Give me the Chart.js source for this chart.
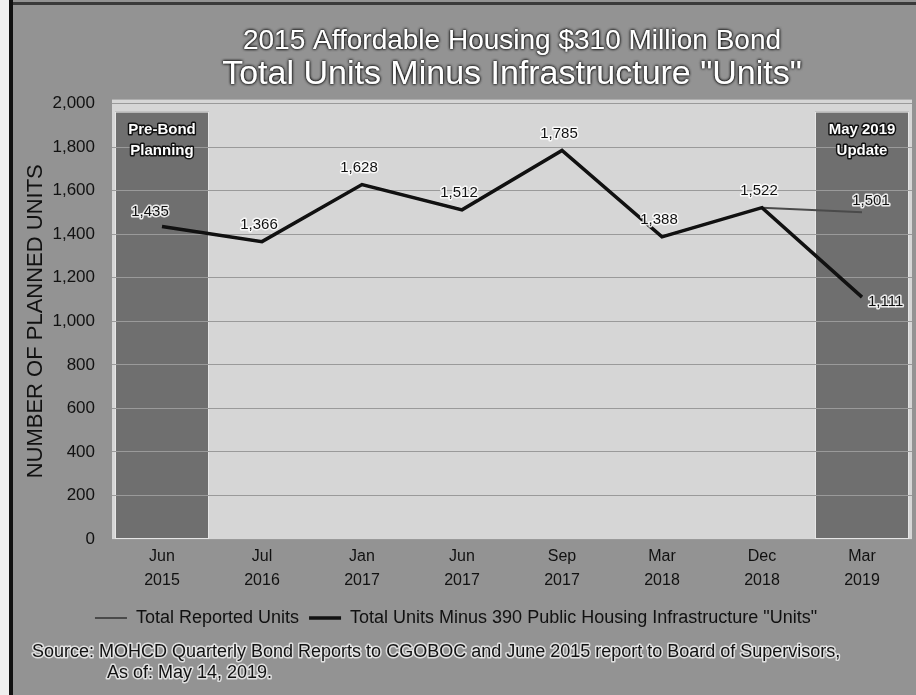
<!DOCTYPE html>
<html>
<head>
<meta charset="utf-8">
<script src="https://cdn.jsdelivr.net/npm/chart.js@4.4.1/dist/chart.umd.min.js"></script>
<style>
html, body { margin: 0; padding: 0; background: #939393; }
canvas { display: block; }
</style>
</head>
<body>
<canvas id="c" width="916" height="695"></canvas>
<script>
// ---- data ----
const categories = [['Jun','2015'],['Jul','2016'],['Jan','2017'],['Jun','2017'],['Sep','2017'],['Mar','2018'],['Dec','2018'],['Mar','2019']];
const totalReportedUnits = [1435, 1366, 1628, 1512, 1785, 1388, 1522, 1501];
const unitsMinusInfrastructure = [1435, 1366, 1628, 1512, 1785, 1388, 1522, 1111];
const seriesNames = ['Total Reported Units', 'Total Units Minus 390 Public Housing Infrastructure "Units"'];
const yTicks = [0, 200, 400, 600, 800, 1000, 1200, 1400, 1600, 1800, 2000];
const bandIndices = [0, 7];
const bandTitles = [['Pre-Bond', 'Planning'], ['May 2019', 'Update']];
const titleText = '2015 Affordable Housing $310 Million Bond';
const subtitleText = 'Total Units Minus Infrastructure "Units"';
const yAxisTitle = 'NUMBER OF PLANNED UNITS';
const sourceLines = ['Source: MOHCD Quarterly Bond Reports to CGOBOC and June 2015 report to Board of Supervisors,', 'As of: May 14, 2019.'];

const FONT = '"Liberation Sans", Arial, Helvetica, sans-serif';
Chart.defaults.font.family = FONT;

const backdrop = {
  id: 'backdrop',
  beforeDraw(chart) {
    const ctx = chart.ctx;
    const { left, top, right, bottom } = chart.chartArea;
    ctx.save();
    ctx.fillStyle = '#939393';
    ctx.fillRect(0, 0, chart.width, chart.height);
    ctx.fillStyle = '#efefef';
    ctx.fillRect(0, 0, 9, chart.height);
    ctx.fillStyle = '#111';
    ctx.fillRect(9, 0, 4, chart.height);
    ctx.fillStyle = '#3a3a3a';
    ctx.fillRect(13, 2, chart.width - 13, 3);
    ctx.fillStyle = '#d6d6d6';
    ctx.fillRect(left, top - 4, right - left, bottom - top + 4);
    const xs = chart.scales.x;
    const half = (xs.getPixelForValue(1) - xs.getPixelForValue(0)) / 2;
    bandIndices.forEach(i => {
      const c = xs.getPixelForValue(i);
      ctx.fillStyle = '#6f6f6f';
      ctx.fillRect(c - half * 0.94, top + 8, half * 1.88, bottom - top - 8);
      ctx.strokeStyle = '#e6e6e6';
      ctx.lineWidth = 1;
      ctx.strokeRect(c - half * 0.94 + 0.5, top + 8.5, half * 1.88 - 1, bottom - top - 9);
    });
    ctx.restore();
    // outlined look for title/subtitle
    chart.boxes.forEach(box => {
      if (box.options && typeof box.options.text === 'string' && box.options.text && !box._outlined && box.constructor === (chart.titleBlock && chart.titleBlock.constructor)) {
        const orig = box.draw.bind(box);
        box.draw = function (area) {
          const c = this.ctx;
          c.save();
          c.shadowColor = 'rgba(0,0,0,1)';
          c.shadowBlur = 3;
          orig(area);
          orig(area);
          c.restore();
        };
        box._outlined = true;
      }
    });
  }
};

const annotations = {
  id: 'annotations',
  afterDatasetsDraw(chart) {
    const ctx = chart.ctx;
    const { top } = chart.chartArea;
    const xs = chart.scales.x;
    const last = categories.length - 1;
    ctx.save();
    ctx.lineJoin = 'round';
    // band titles
    ctx.font = 'bold 15px ' + FONT;
    ctx.textAlign = 'center';
    ctx.textBaseline = 'middle';
    bandIndices.forEach((idx, k) => {
      const c = xs.getPixelForValue(idx);
      bandTitles[k].forEach((line, j) => {
        const y = top + 26 + j * 21;
        ctx.lineWidth = 3;
        ctx.strokeStyle = '#111';
        ctx.strokeText(line, c, y);
        ctx.fillStyle = '#ffffff';
        ctx.fillText(line, c, y);
      });
    });
    // value labels
    ctx.font = '15px ' + FONT;
    chart.data.datasets.forEach((ds, di) => {
      const meta = chart.getDatasetMeta(di);
      meta.data.forEach((pt, i) => {
        if (di === 1 && i !== last) return;
        const txt = ds.data[i].toLocaleString('en-US');
        let x = pt.x - 3, y = pt.y - 17, align = 'center';
        if (i === 0) { x = pt.x - 12; y = pt.y - 15; }
        if (i === last) {
          if (di === 0) { x = pt.x + 9; y = pt.y - 11; }
          else { x = pt.x + 6; y = pt.y + 5; align = 'left'; }
        }
        ctx.textAlign = align;
        ctx.lineWidth = 3;
        ctx.strokeStyle = 'rgba(255,255,255,0.85)';
        ctx.strokeText(txt, x, y);
        ctx.fillStyle = '#111';
        ctx.fillText(txt, x, y);
      });
    });
    ctx.restore();
  },
  afterDraw(chart) {
    const ctx = chart.ctx;
    ctx.save();
    ctx.font = '18px ' + FONT;
    ctx.textAlign = 'left';
    ctx.textBaseline = 'middle';
    ctx.lineJoin = 'round';
    const pos = [[32, 652], [107, 673]];
    sourceLines.forEach((line, i) => {
      ctx.lineWidth = 3;
      ctx.strokeStyle = 'rgba(255,255,255,0.7)';
      ctx.strokeText(line, pos[i][0], pos[i][1]);
      ctx.fillStyle = '#111';
      ctx.fillText(line, pos[i][0], pos[i][1]);
    });
    ctx.restore();
  }
};

new Chart(document.getElementById('c'), {
  type: 'line',
  data: {
    labels: categories,
    datasets: [
      {
        label: seriesNames[0],
        data: totalReportedUnits,
        borderColor: '#4a4a4a',
        borderWidth: 2,
        pointRadius: 0,
        pointStyle: 'line',
        tension: 0,
        order: 2
      },
      {
        label: seriesNames[1],
        data: unitsMinusInfrastructure,
        borderColor: '#111111',
        borderWidth: 3.5,
        pointRadius: 0,
        pointStyle: 'line',
        tension: 0,
        order: 1
      }
    ]
  },
  options: {
    responsive: false,
    animation: false,
    layout: { padding: { left: 0, right: 4, top: 0, bottom: 58 } },
    plugins: {
      title: {
        display: true,
        text: titleText,
        fullSize: false,
        color: '#ffffff',
        font: { size: 28, weight: 'normal', lineHeight: 1.2 },
        padding: { top: 24, bottom: 0 }
      },
      subtitle: {
        display: true,
        text: subtitleText,
        fullSize: false,
        color: '#ffffff',
        font: { size: 34, weight: 'normal', lineHeight: 1.0 },
        padding: { top: 0, bottom: 12 }
      },
      legend: {
        position: 'bottom',
        labels: {
          usePointStyle: true,
          pointStyleWidth: 32,
          padding: 10,
          color: '#111',
          font: { size: 18 },
          sort: (a, b) => a.datasetIndex - b.datasetIndex
        }
      },
      tooltip: { enabled: false }
    },
    scales: {
      x: {
        offset: true,
        grid: { display: false, drawTicks: false },
        border: { display: false },
        ticks: {
          padding: 6,
          color: '#111',
          maxRotation: 0,
          autoSkip: false,
          font: { size: 16, lineHeight: 1.5 },
          callback: (v, i) => categories[i]
        }
      },
      y: {
        min: 0,
        max: 2000,
        afterBuildTicks: s => { s.ticks = yTicks.map(v => ({ value: v })); },
        afterFit: s => { s.width = 112; },
        border: { display: false },
        grid: { color: '#9a9a9a', lineWidth: 1, drawTicks: false },
        ticks: {
          padding: 17,
          color: '#111',
          font: { size: 17 }
        },
        title: {
          display: true,
          text: yAxisTitle,
          color: '#111',
          font: { size: 22, lineHeight: 1.2 },
          padding: { top: 23, bottom: 0 }
        }
      }
    }
  },
  plugins: [backdrop, annotations]
});
</script>
</body>
</html>
